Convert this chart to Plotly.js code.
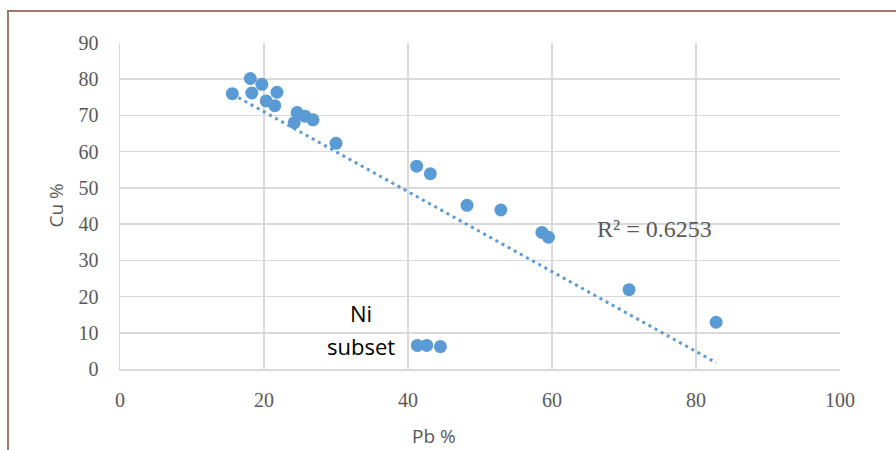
<!DOCTYPE html>
<html>
<head>
<meta charset="utf-8">
<script src="https://cdn.plot.ly/plotly-3.0.1.min.js"></script>
<style>
html,body{margin:0;padding:0;background:#fff;}
#chart{width:896px;height:450px;position:absolute;left:0;top:0;}
#frame{position:absolute;left:7px;top:10px;width:900px;height:450px;border-top:2px solid #9C7C68;border-left:2px solid #9C7C68;pointer-events:none;}
</style>
</head>
<body>
<div id="chart"></div>
<div id="frame"></div>
<script>
// Pb % (x) and Cu % (y) values
const pbMain = [15.6, 18.1, 18.3, 19.7, 20.3, 21.5, 21.8, 24.6, 24.2, 25.7, 26.8, 30.0, 41.2, 43.1, 48.2, 52.9, 58.6, 59.5, 70.7, 82.8];
const cuMain = [76.0, 80.2, 76.2, 78.6, 74.0, 72.7, 76.4, 70.8, 68.0, 69.8, 68.8, 62.3, 56.0, 53.9, 45.2, 43.9, 37.7, 36.4, 21.9, 12.9];
const pbNi = [41.3, 42.6, 44.5];
const cuNi = [6.5, 6.5, 6.2];
const xTicks = [0, 20, 40, 60, 80, 100];
const yTicks = [0, 10, 20, 30, 40, 50, 60, 70, 80, 90];
const r2Label = "R² = 0.6253";
const niLines = ["Ni", "subset"];
const xTitle = "Pb %";
const yTitle = "Cu %";

const allX = pbMain.concat(pbNi);
const allY = cuMain.concat(cuNi);
const n = allX.length;
const mx = allX.reduce((a,b)=>a+b,0)/n;
const my = allY.reduce((a,b)=>a+b,0)/n;
let sxy=0, sxx=0;
for(let i=0;i<n;i++){sxy+=(allX[i]-mx)*(allY[i]-my);sxx+=(allX[i]-mx)**2;}
const slope = sxy/sxx, icpt = my - slope*mx;
const xmin = Math.min(...allX), xmax = Math.max(...allX);
const trendX = [xmin, xmax];
const trendY = trendX.map(x=>icpt+slope*x);

const blue = '#5B9BD5';
const data = [
  {x: trendX, y: trendY, mode:'lines', line:{color:blue, width:3, dash:'3px,4px'}, hoverinfo:'skip'},
  {x: allX, y: allY, mode:'markers', marker:{color:blue, size:13}}
];
const tickFont = {family:'"Liberation Serif", "DejaVu Serif", serif', size:20, color:'#595959'};
const titleFont = {family:'"Open Sans", "Liberation Sans", sans-serif', size:19, color:'#595959'};
const niFont = {family:'"Open Sans", "Liberation Sans", sans-serif', size:22, color:'#000'};
const layout = {
  width:896, height:450,
  margin:{l:119.5, r:56, t:42.7, b:80.5},
  paper_bgcolor:'#fff', plot_bgcolor:'#fff',
  showlegend:false,
  xaxis:{range:[0,100], tickvals:xTicks, ticktext:xTicks.map(String), showgrid:true, gridcolor:'#D9D9D9', gridwidth:1.5,
    zeroline:false, showline:true, linecolor:'#D9D9D9', linewidth:1.5, ticks:'outside', ticklen:12, tickcolor:'rgba(0,0,0,0)',
    tickfont:tickFont},
  yaxis:{range:[0,90], tickvals:yTicks, ticktext:yTicks.map(String), showgrid:true, gridcolor:'#D9D9D9', gridwidth:1.5,
    zeroline:false, showline:true, linecolor:'#D9D9D9', linewidth:1.5, ticks:'outside', ticklen:16, tickcolor:'rgba(0,0,0,0)',
    tickfont:tickFont},
  annotations:[
    {x:74.3, y:38.6, xref:'x', yref:'y', text:r2Label, showarrow:false, font:{family:'"Liberation Serif", serif', size:24, color:'#595959'}},
    {x:33.5, y:15.4, xref:'x', yref:'y', text:niLines[0], showarrow:false, font:niFont},
    {x:33.5, y:6.4, xref:'x', yref:'y', text:niLines[1], showarrow:false, font:niFont},
    {x:(434-119.5)/720.5, y:-0.205, xref:'paper', yref:'paper', text:xTitle, showarrow:false, font:titleFont, xanchor:'center', yanchor:'middle'},
    {x:(55-119.5)/720.5, y:0.5, xref:'paper', yref:'paper', text:yTitle, showarrow:false, font:titleFont, textangle:-90, xanchor:'center', yanchor:'middle'}
  ]
};
Plotly.newPlot('chart', data, layout, {displayModeBar:false, staticPlot:true});
</script>
</body>
</html>
